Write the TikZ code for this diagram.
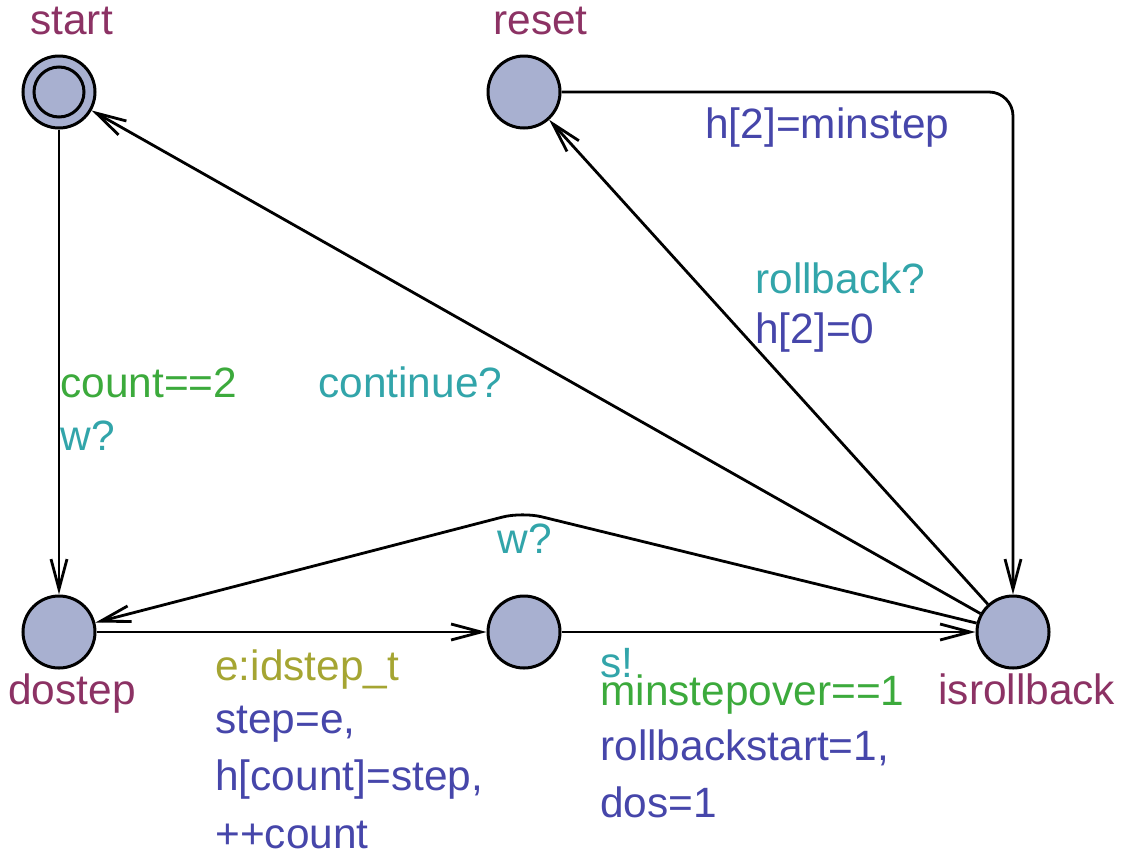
\documentclass[tikz,border=0pt]{standalone}
\usepackage{fontspec}
\setmainfont{Liberation Sans}
\usetikzlibrary{positioning, arrows.meta}
\definecolor{locfill}{RGB}{168,176,208}
\definecolor{locname}{RGB}{140,50,100}
\definecolor{guardcol}{RGB}{60,170,60}
\definecolor{synccol}{RGB}{50,165,170}
\definecolor{updcol}{RGB}{70,70,170}
\definecolor{selcol}{RGB}{165,165,50}
\tikzset{
  loc/.style={circle, draw, line width=1.5pt, fill=locfill, minimum size=36pt, inner sep=0pt},
  trans/.style={line width=1.4pt, -{Straight Barb[length=15pt,width=8pt]}},
  lbl/.style={anchor=base west, inner sep=0pt, font=\fontsize{21.2}{25}\selectfont},
}

\begin{document}
\begin{tikzpicture}[x=0.5pt, y=-0.5pt]
            \useasboundingbox (0,0) rectangle (1124,857);

            \node[loc] (start) at (59,92) {};
            \node[circle, draw, line width=1.5pt, minimum size=25pt, inner sep=0pt] (startin) at (start) {};
            \node[loc] (reset) at (524,92) {};
            \node[loc] (dostep) at (59,632) {};
            \node[loc] (mid) at (524,632) {};
            \node[loc] (isrollback) at (1013,632) {};
            \coordinate (bend) at (522,512);

            % location names
            \node[lbl, locname] (nstart) at (30,34) {start};
            \node[lbl, locname] (nreset) at (493,34) {reset};
            \node[lbl, locname] (ndostep) at (8,704) {dostep};
            \node[lbl, locname] (nisrollback) at (938,704) {isrollback};

            \draw [trans] (start) -- (dostep);
            \draw [trans] (isrollback) -- (start);
            \draw [trans] (isrollback) -- (reset);
            \draw [trans, rounded corners=12pt] (reset) -| (isrollback);
            \draw [trans, rounded corners=10pt] (isrollback) -- (bend) -- (dostep);
            \draw [trans] (dostep) -- (mid);
            \draw [trans] (mid) -- (isrollback);

            % labels
            \node[lbl, guardcol] (g1) at (60,397) {count==2};
            \node[lbl, synccol] (s1) at (60,450) {w?};
            \node[lbl, synccol] (s2) at (318,397) {continue?};
            \node[lbl, synccol] (s3) at (755,293) {rollback?};
            \node[lbl, updcol] (u3) at (755,343) {h[2]=0};
            \node[lbl, updcol] (u4) at (705,138) {h[2]=minstep};
            \node[lbl, synccol] (s5) at (497,553) {w?};
            \node[lbl, selcol] (sel6) at (215,680) {e:idstep\_t};
            \node[lbl, updcol] (u6a) at (215,733) {step=e,};
            \node[lbl, updcol] (u6b) at (215,790) {h[count]=step,};
            \node[lbl, updcol] (u6c) at (215,848) {++count};
            \node[lbl, synccol] (s7) at (600,677) {s!};
            \node[lbl, guardcol] (g7) at (600,705) {minstepover==1};
            \node[lbl, updcol] (u7a) at (600,760) {rollbackstart=1,};
            \node[lbl, updcol] (u7b) at (600,817) {dos=1};
        \end{tikzpicture}
\end{document}
